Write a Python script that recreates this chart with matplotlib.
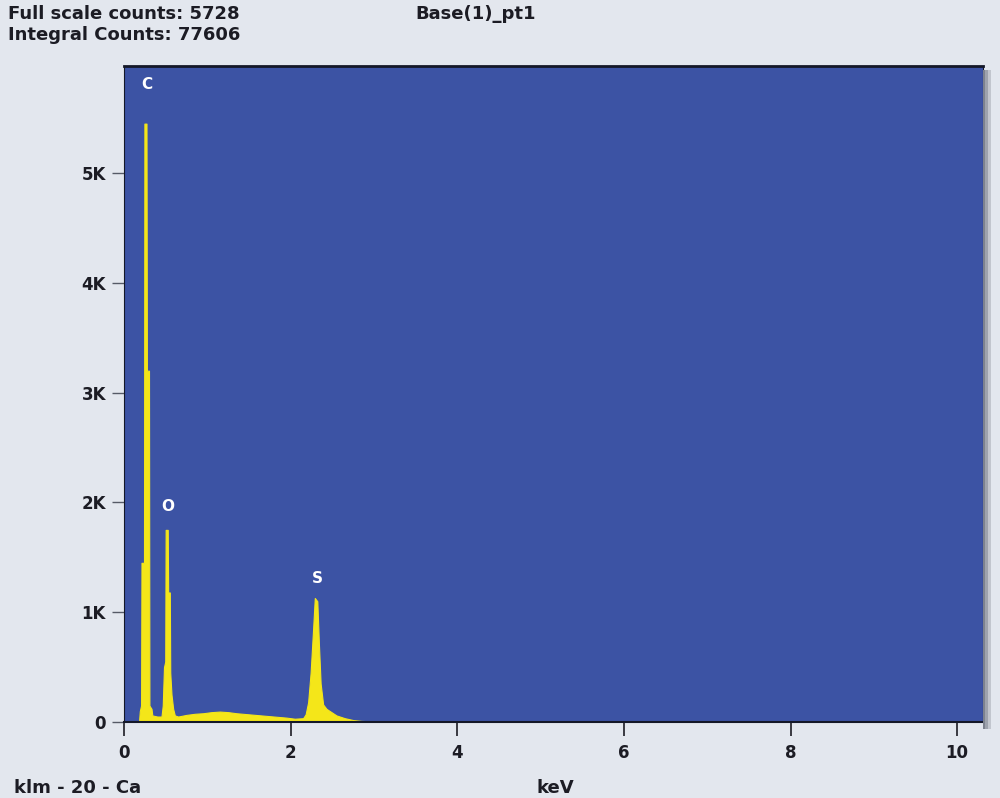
import numpy as np
import matplotlib.pyplot as plt
from matplotlib.patches import Rectangle

# spectrum (keV, counts)
energy = [0.00, 0.18, 0.19, 0.205, 0.21, 0.24, 0.245, 0.27, 0.275, 0.30, 0.305,
          0.33, 0.34, 0.40, 0.45, 0.465, 0.48, 0.495, 0.50, 0.525, 0.53, 0.55,
          0.555, 0.57, 0.59, 0.61, 0.65, 0.75, 0.85, 0.95, 1.05, 1.15, 1.25,
          1.35, 1.50, 1.65, 1.80, 1.95, 2.05, 2.15, 2.18, 2.21, 2.24, 2.27,
          2.29, 2.32, 2.34, 2.36, 2.39, 2.43, 2.48, 2.55, 2.65, 2.75, 2.85,
          3.00, 3.70, 3.75, 10.3]
counts = [0, 0, 100, 150, 1450, 1450, 5450, 5450, 3200, 3200, 150,
          120, 60, 50, 50, 150, 500, 550, 1750, 1750, 1180, 1180,
          450, 250, 120, 60, 50, 65, 75, 80, 90, 95, 90,
          80, 70, 60, 50, 40, 30, 35, 70, 180, 450, 850,
          1130, 1100, 700, 350, 160, 120, 95, 60, 35, 18, 10,
          6, 3, 0, 0]

peak_names = ['C', 'O', 'S']
peak_pos = [0.27, 0.53, 2.32]
peak_label_y = [5810, 1960, 1310]

xticks = [0, 2, 4, 6, 8, 10]
yticks = [0, 1000, 2000, 3000, 4000, 5000]
ytick_labels = ['0', '1K', '2K', '3K', '4K', '5K']

bg = '#e3e7ee'
plot_bg = '#3c53a4'
yellow = '#f4e619'
dark = '#1c1c24'

fig = plt.figure(figsize=(10, 7.98), dpi=100, facecolor=bg)

# soft shadow on the right of the panel
for i, c in enumerate(['#7d828e', '#9ea3ad', '#c2c6ce']):
    fig.patches.append(Rectangle((0.983 + 0.0025 * i, 0.087), 0.0025, 0.825,
                                 transform=fig.transFigure, facecolor=c,
                                 edgecolor='none', zorder=0))

ax = fig.add_axes([0.124, 0.0952, 0.859, 0.822])
ax.set_facecolor(plot_bg)
ax.fill_between(energy, 0, counts, color=yellow, linewidth=0.8, edgecolor=yellow)

ax.set_xlim(0, 10.31)
ax.set_ylim(0, 5974)

for name, x, y in zip(peak_names, peak_pos, peak_label_y):
    ax.text(x, y, name, color='white', fontsize=11, fontweight='bold',
            ha='center', va='center')

for s in ['top', 'bottom', 'left', 'right']:
    ax.spines[s].set_color('#141828')
ax.spines['top'].set_linewidth(2)
ax.spines['bottom'].set_linewidth(1.5)
ax.spines['left'].set_linewidth(0.8)
ax.spines['right'].set_linewidth(0.8)

ax.set_xticks(xticks)
ax.set_xticklabels([str(t) for t in xticks])
ax.set_yticks(yticks)
ax.set_yticklabels(ytick_labels)
ax.tick_params(axis='x', direction='out', length=10, width=1.2, color=dark,
               labelsize=12, pad=6, labelcolor=dark)
ax.tick_params(axis='y', direction='out', length=9, width=1, color='#555a66',
               labelsize=12, pad=4, labelcolor=dark)
for lab in ax.get_xticklabels() + ax.get_yticklabels():
    lab.set_fontweight('bold')

# header and footer texts
fig.text(0.008, 1 - 14 / 798, 'Full scale counts: 5728', fontsize=13,
         fontweight='bold', color=dark, va='center', ha='left')
fig.text(0.008, 1 - 35 / 798, 'Integral Counts: 77606', fontsize=13,
         fontweight='bold', color=dark, va='center', ha='left')
fig.text(0.415, 1 - 14 / 798, 'Base(1)_pt1', fontsize=13,
         fontweight='bold', color=dark, va='center', ha='left')
fig.text(0.014, 1 - 788 / 798, 'klm - 20 - Ca', fontsize=13,
         fontweight='bold', color=dark, va='center', ha='left')
fig.text(0.537, 1 - 788 / 798, 'keV', fontsize=13,
         fontweight='bold', color=dark, va='center', ha='left')

fig.savefig('out.png', dpi=100, facecolor=bg)
